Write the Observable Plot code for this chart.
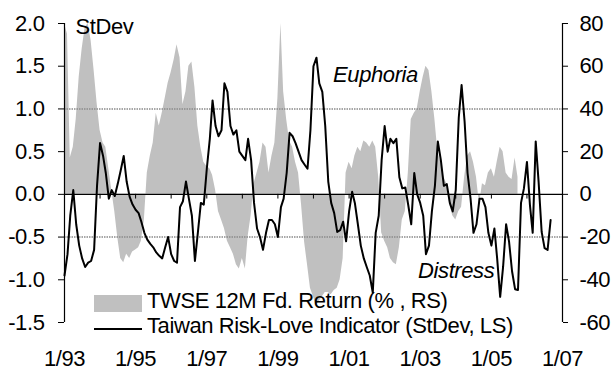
<!DOCTYPE html>
<html>
<head>
<meta charset="utf-8">
<script src="https://cdn.jsdelivr.net/npm/d3@7"></script>
<script src="https://cdn.jsdelivr.net/npm/@observablehq/plot@0.6"></script>
<style>
  body { margin: 0; background: #fff; }
  #wrap { position: relative; width: 613px; height: 371px; font-family: 'Liberation Sans', Arial, sans-serif; }
  .lg { position: absolute; font-size: 22px; line-height: 22px; letter-spacing: -0.4px; color: #000; white-space: nowrap; }
</style>
</head>
<body>
<div id="wrap"></div>
<script>
// Taiwan Risk-Love Indicator (StDev, LS), monthly from Jan 1993
const riskLove = [
  -0.95,-0.70,-0.25,0.05,-0.35,-0.60,-0.75,-0.85,-0.80,-0.78,-0.65,0.10,
  0.60,0.45,0.25,-0.05,0.05,-0.02,0.12,0.28,0.45,0.15,-0.03,-0.12,
  -0.18,-0.22,-0.32,-0.45,-0.53,-0.58,-0.62,-0.68,-0.72,-0.75,-0.62,-0.50,
  -0.70,-0.78,-0.80,-0.15,-0.08,0.15,-0.05,-0.25,-0.78,-0.45,-0.10,-0.12,
  0.30,0.65,1.10,0.80,0.68,0.75,1.30,1.20,0.80,0.70,0.75,0.50,
  0.45,0.40,0.65,0.40,-0.10,-0.40,-0.50,-0.65,-0.45,-0.30,-0.30,-0.35,
  -0.50,-0.15,-0.05,0.25,0.72,0.68,0.60,0.50,0.40,0.35,0.30,0.75,
  1.50,1.60,1.30,1.20,0.80,0.15,-0.10,-0.22,-0.44,-0.42,-0.32,-0.55,
  -0.20,0.03,-0.10,-0.35,-0.60,-0.75,-0.85,-0.95,-1.15,-0.45,-0.25,0.40,
  0.80,0.50,0.65,0.60,0.65,0.20,0.07,0.08,-0.13,-0.35,0.25,0.00,
  -0.10,-0.25,-0.70,-0.60,-0.20,0.10,0.62,0.40,0.10,0.12,-0.10,-0.20,
  0.05,0.90,1.28,0.85,0.25,-0.05,-0.45,-0.35,-0.05,-0.05,-0.15,-0.45,
  -0.60,-0.40,-0.75,-1.20,-0.85,-0.35,-0.55,-0.90,-1.11,-1.12,-0.10,0.07,
  0.38,-0.13,-0.45,0.62,0.14,-0.44,-0.63,-0.65,-0.30
];
// TWSE 12M forward return (%, RS), monthly from Jan 1993
const twseFwdReturn = [
  80,75,17,22,35,55,68,78,80,72,58,43,
  30,24,22,12,2,-8,-20,-30,-32,-28,-30,-27,
  -26,-25,-22,-12,10,18,24,38,32,38,45,52,
  57,63,70,64,42,48,60,62,50,32,22,15,
  13,12,9,2,-8,-12,-16,-22,-25,-28,-33,-35,
  -30,-35,-20,-10,5,10,15,24,22,10,18,24,
  45,80,48,35,25,22,15,10,-5,-22,-33,-44,
  -48,-52,-50,-48,-46,-46,-47,-45,-44,-40,-30,10,
  15,12,18,22,20,25,24,22,25,22,8,-18,
  -22,-25,-30,-32,-33,-25,-12,-8,10,35,38,40,
  48,55,60,58,48,35,20,15,8,5,-5,-10,
  -12,-8,-6,8,18,20,15,8,-5,5,4,10,
  12,8,15,22,20,10,8,7,17,8
];
const leftTicks = [-1.5,-1.0,-0.5,0.0,0.5,1.0,1.5,2.0];
const labelYears = [1993,1995,1997,1999,2001,2003,2005,2007];
const tickYears = d3.range(1993, 2008);
const guideLevels = [1.0, -0.5];
const notes = [
  {text: "Euphoria", year: 2000, month: 6, day: 20, v: 1.40},
  {text: "Distress", year: 2002, month: 11, day: 10, v: -0.90}
];

const SD_PER_PCT = 1 / 40; // right scale: 20% per 0.5 StDev
const monthDate = i => new Date(Date.UTC(1993, i, 1));
const lineData = riskLove.map((v, i) => ({date: monthDate(i), v}));
const areaData = twseFwdReturn.map((r, i) => ({date: monthDate(i), v: r * SD_PER_PCT}));
const xDomain = [new Date(Date.UTC(1993, 0, 1)), new Date(Date.UTC(2007, 0, 1))];

const chart = Plot.plot({
  width: 613,
  height: 371,
  marginLeft: 64,
  marginRight: 51,
  marginTop: 23,
  marginBottom: 49,
  style: {fontFamily: "'Liberation Sans', Arial, sans-serif", fontSize: "22px", letterSpacing: "-0.4px", background: "#fff", overflow: "visible"},
  x: {type: "utc", domain: xDomain, label: null},
  y: {domain: [-1.5, 2.0], label: null},
  marks: [
    Plot.areaY(areaData, {x: "date", y: "v", fill: "#c0c0c0"}),
    Plot.ruleY(guideLevels, {stroke: "#8a8a8a", strokeWidth: 1.6, strokeDasharray: "1.5,1"}),
    Plot.ruleY([0], {stroke: "#000", strokeWidth: 1.2}),
    Plot.ruleX(tickYears.map(y => new Date(Date.UTC(y, 0, 1))), {y1: 0, y2: -0.055, stroke: "#000"}),
    Plot.lineY(lineData, {x: "date", y: "v", stroke: "#000", strokeWidth: 2}),
    Plot.ruleX([xDomain[0]], {stroke: "#000", strokeWidth: 1.2}),
    Plot.ruleX([xDomain[1]], {stroke: "#000", strokeWidth: 1.2}),
    Plot.axisY({anchor: "left", label: null, ticks: leftTicks, tickFormat: d => d.toFixed(1), tickSize: 6, tickPadding: 14, fontSize: 22}),
    Plot.axisY({anchor: "right", label: null, ticks: leftTicks, tickFormat: d => String(Math.round(d / SD_PER_PCT)), tickSize: 5, tickPadding: 12, fontSize: 22}),
    Plot.axisX({anchor: "bottom", label: null, ticks: labelYears.map(y => new Date(Date.UTC(y, 0, 1))), tickFormat: d => "1/" + String(d.getUTCFullYear()).slice(2), tickSize: 0, tickPadding: 28, fontSize: 22}),
    Plot.text(["StDev"], {frameAnchor: "top-left", dx: 11, dy: -5, textAnchor: "start", fontSize: 22}),
    Plot.text(notes, {x: d => new Date(Date.UTC(d.year, d.month, d.day)), y: "v", text: "text", textAnchor: "start", fontStyle: "italic", fontSize: 22})
  ]
});

const wrap = document.getElementById("wrap");
wrap.appendChild(chart);

// legend (inside plot area, bottom-left)
const sw = document.createElement("div");
sw.style.cssText = "position:absolute;left:94px;top:295px;width:48px;height:17px;background:#c0c0c0;";
wrap.appendChild(sw);
const ln = document.createElement("div");
ln.style.cssText = "position:absolute;left:94px;top:328px;width:48px;height:2px;background:#000;";
wrap.appendChild(ln);
const t1 = document.createElement("div");
t1.className = "lg"; t1.style.left = "147px"; t1.style.top = "290px";
t1.textContent = "TWSE 12M Fd. Return (% , RS)";
wrap.appendChild(t1);
const t2 = document.createElement("div");
t2.className = "lg"; t2.style.left = "147px"; t2.style.top = "315px";
t2.textContent = "Taiwan Risk-Love Indicator (StDev, LS)";
wrap.appendChild(t2);
</script>
</body>
</html>
